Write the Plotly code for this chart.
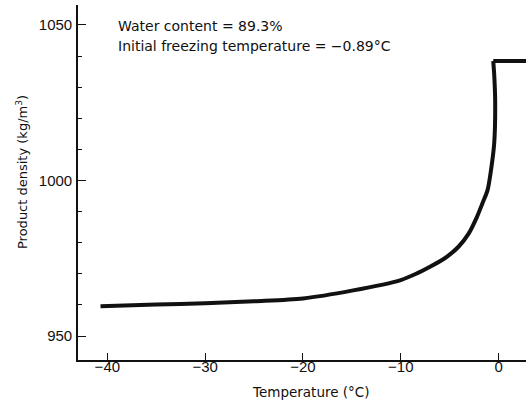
import plotly.graph_objects as go

# Data
temperature_c = [-40.7, -35, -30, -25, -20, -15, -10, -8.3, -7.3, -5.5, -4.1,
                 -3.05, -2.2, -1.65, -1.13, -0.77, -0.45, -0.35, -0.45, -0.55, 3.5]
density_kgm3 = [959.6, 960.1, 960.5, 961.2, 962.1, 964.6, 968.0, 970.2, 971.8,
                975.0, 978.7, 983.0, 988.4, 992.7, 996.9, 1003.5, 1012, 1025,
                1034, 1038.4, 1038.4]

x_ticks = [-40, -30, -20, -10, 0]
y_ticks = [950, 1000, 1050]
notes = ["Water content = 89.3%", "Initial freezing temperature = \u22120.89\u00b0C"]
x_title = "Temperature (\u00b0C)"
y_title = "Product density (kg/m<sup>3</sup>)"

TICKFONT = "Liberation Sans, Arial, sans-serif"
TEXTFONT = "DejaVu Sans, Verdana, sans-serif"
INK = "#111111"

# plot area in pixels (figure 526 x 405)
L, R, T, B = 78, 0, 5, 45
PW, PH = 526 - L - R, 405 - T - B

fig = go.Figure()
# freezing curve (smooth) up to the initial freezing point
fig.add_trace(go.Scatter(
    x=temperature_c[:-1], y=density_kgm3[:-1], mode="lines",
    line=dict(color=INK, width=4, shape="spline", smoothing=0.8),
    showlegend=False, hoverinfo="skip"))
# unfrozen plateau above the freezing point
fig.add_trace(go.Scatter(
    x=temperature_c[-2:], y=density_kgm3[-2:], mode="lines",
    line=dict(color=INK, width=4), showlegend=False, hoverinfo="skip"))

fig.update_layout(
    width=526, height=405,
    margin=dict(l=L, r=R, t=T, b=B),
    paper_bgcolor="white", plot_bgcolor="white",
    font=dict(family=TICKFONT, size=15, color=INK),
    xaxis=dict(
        range=[-43, 2.8], tickvals=x_ticks, ticks="inside", ticklen=7,
        tickwidth=1.3, tickcolor=INK, showline=True, linecolor=INK, linewidth=1.6,
        showgrid=False, zeroline=False, automargin=False, ticklabelstandoff=-8,
        tickfont=dict(size=15, family=TICKFONT, color=INK),
    ),
    yaxis=dict(
        range=[942.3, 1056.4], tickvals=y_ticks, ticks="inside", ticklen=8,
        tickwidth=1.3, tickcolor=INK, showline=True, linecolor=INK, linewidth=1.6,
        showgrid=False, zeroline=False, automargin=False, ticklabelstandoff=1,
        tickfont=dict(size=15, family=TICKFONT, color=INK),
        minor=dict(dtick=10, tick0=950, ticks="inside", ticklen=4, tickcolor=INK, tickwidth=1),
    ),
)

def px_x(px):
    return (px - L) / PW

def px_y(py):
    return 1 - (py - T) / PH

for i, txt in enumerate(notes):
    fig.add_annotation(
        text=txt, xref="paper", yref="paper", x=px_x(116), y=px_y(26 + 20 * i),
        xanchor="left", yanchor="middle", showarrow=False,
        font=dict(size=14, family=TEXTFONT, color=INK))

fig.add_annotation(
    text=x_title, xref="paper", yref="paper", x=px_x(311), y=px_y(392),
    xanchor="center", yanchor="middle", showarrow=False,
    font=dict(size=13.5, family=TEXTFONT, color=INK))

fig.add_annotation(
    text=y_title, xref="paper", yref="paper", x=px_x(22), y=px_y(172),
    xanchor="center", yanchor="middle", showarrow=False, textangle=-90,
    font=dict(size=13, family=TEXTFONT, color=INK))

fig.write_html(
    "out.html",
    config={"displayModeBar": False},
    post_script="document.body.style.margin='0';document.body.style.overflow='hidden';",
)
